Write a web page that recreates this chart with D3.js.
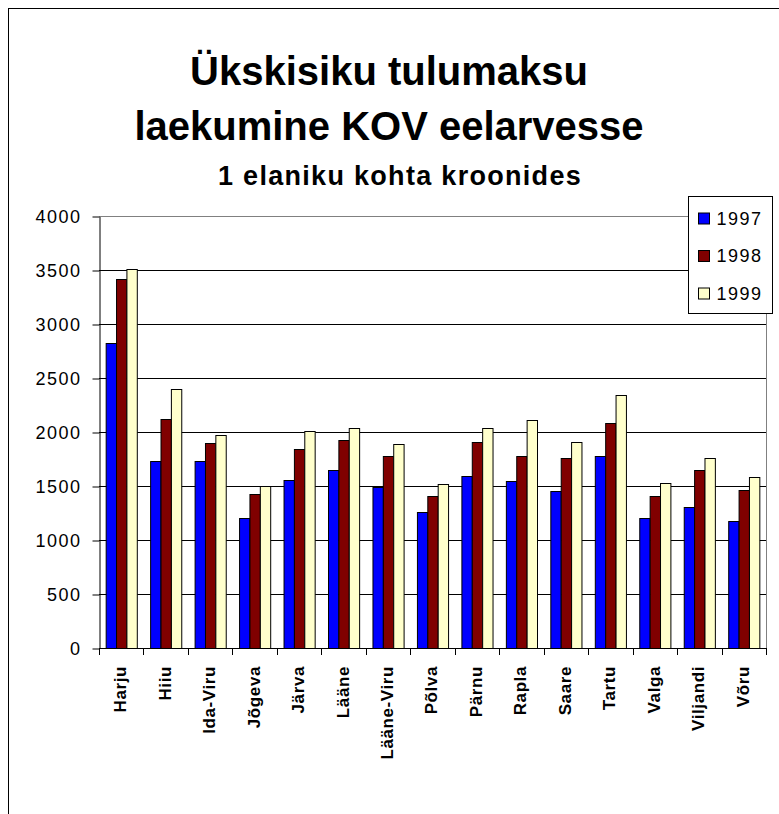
<!DOCTYPE html>
<html>
<head>
<meta charset="utf-8">
<script src="https://cdn.jsdelivr.net/npm/d3@7"></script>
<style>
  body { margin: 0; background: #fff; }
  svg { display: block; font-family: 'Liberation Sans', Arial, sans-serif; }
</style>
</head>
<body>
<div class="vis-bars"></div>
<script>
const counties = ['Harju', 'Hiiu', 'Ida-Viru', 'Jõgeva', 'Järva', 'Lääne', 'Lääne-Viru',
    'Põlva', 'Pärnu', 'Rapla', 'Saare', 'Tartu', 'Valga', 'Viljandi', 'Võru'];
const years = ['1997', '1998', '1999'];
const v1997 = [2820, 1730, 1730, 1200, 1560, 1650, 1490, 1260, 1590, 1550, 1450, 1780, 1200, 1310, 1180];
const v1998 = [3420, 2120, 1900, 1430, 1840, 1930, 1780, 1410, 1910, 1780, 1760, 2080, 1410, 1650, 1460];
const v1999 = [3510, 2400, 1970, 1500, 2010, 2040, 1890, 1520, 2040, 2110, 1910, 2340, 1530, 1760, 1580];
const yTicks = [0, 500, 1000, 1500, 2000, 2500, 3000, 3500, 4000];
const titleLines = ['Ükskisiku tulumaksu', 'laekumine KOV eelarvesse'];
const subtitle = '1 elaniku kohta kroonides';

const series = [v1997, v1998, v1999];
const colors = ['#0000ff', '#800000', '#ffffcc'];

const W = 779, H = 814;
const plot = { left: 99, right: 766, top: 216, bottom: 648 };

const svg = d3.select('.vis-bars')
    .append('svg')
    .attr('width', W)
    .attr('height', H);

// outer frame (runs off the right and bottom of the picture)
svg.append('rect')
    .attr('x', 8.5).attr('y', 8.5)
    .attr('width', W + 20).attr('height', H + 20)
    .attr('fill', '#fff')
    .attr('stroke', '#000');

// titles
svg.append('text')
    .attr('x', 389).attr('y', 85)
    .attr('text-anchor', 'middle')
    .style('font-size', '40px').style('font-weight', 'bold')
    .text(titleLines[0]);
svg.append('text')
    .attr('x', 389).attr('y', 140)
    .attr('text-anchor', 'middle')
    .style('font-size', '40px').style('font-weight', 'bold')
    .text(titleLines[1]);
svg.append('text')
    .attr('x', 400).attr('y', 185)
    .attr('text-anchor', 'middle')
    .style('font-size', '27px').style('font-weight', 'bold')
    .style('letter-spacing', '1.3px')
    .text(subtitle);

const y = d3.scaleLinear()
    .domain([0, 4000])
    .range([plot.bottom, plot.top]);

const x = d3.scaleBand()
    .domain(counties)
    .range([plot.left, plot.right])
    .paddingInner(0.3)
    .paddingOuter(0.15);

const xs = d3.scaleBand()
    .domain(years)
    .range([0, x.bandwidth()]);

// gridlines
svg.append('g')
    .selectAll('line')
    .data(yTicks.filter(d => d > 0))
    .enter().append('line')
    .attr('x1', plot.left).attr('x2', plot.right)
    .attr('y1', d => Math.round(y(d)) + 0.5)
    .attr('y2', d => Math.round(y(d)) + 0.5)
    .attr('stroke', d => d === 4000 ? '#808080' : '#000');

// right plot border
svg.append('line')
    .attr('x1', plot.right + 0.5).attr('x2', plot.right + 0.5)
    .attr('y1', y(4000)).attr('y2', y(0))
    .attr('stroke', '#808080');

// bars
const groups = svg.append('g')
    .selectAll('g')
    .data(counties)
    .enter().append('g')
    .attr('transform', d => 'translate(' + x(d) + ',0)');

groups.selectAll('rect')
    .data((d, i) => years.map((yr, k) => ({ year: yr, value: series[k][i], k: k })))
    .enter().append('rect')
    .attr('x', d => xs(d.year) + 0.5)
    .attr('y', d => Math.round(y(d.value)) + 0.5)
    .attr('width', xs.bandwidth())
    .attr('height', d => y(0) - Math.round(y(d.value)))
    .attr('fill', d => colors[d.k])
    .attr('stroke', '#000')
    .attr('stroke-width', 1);

// y axis
const yAxis = svg.append('g')
    .attr('transform', 'translate(' + (plot.left + 0.5) + ',0.5)')
    .call(d3.axisLeft(y).tickValues(yTicks).tickFormat(d3.format('d')).tickSize(7).tickSizeOuter(0));
yAxis.select('.domain').attr('stroke', '#000');
yAxis.selectAll('.tick line').attr('stroke', '#000');
yAxis.selectAll('.tick text')
    .attr('x', -18)
    .style('font-size', '18px')
    .style('letter-spacing', '1.5px')
    .style('font-family', "'Liberation Sans', Arial, sans-serif")
    .attr('fill', '#000');

// x axis: ticks on category boundaries
const bounds = counties.map(c => x(c) - x.step() * x.paddingOuter()).concat([plot.right]);
svg.append('line')
    .attr('x1', plot.left).attr('x2', plot.right + 1)
    .attr('y1', y(0) + 0.5).attr('y2', y(0) + 0.5)
    .attr('stroke', '#000');
svg.append('g')
    .selectAll('line')
    .data(bounds)
    .enter().append('line')
    .attr('x1', d => Math.round(d) + 0.5).attr('x2', d => Math.round(d) + 0.5)
    .attr('y1', y(0)).attr('y2', y(0) + 7)
    .attr('stroke', '#000');

svg.append('g')
    .selectAll('text')
    .data(counties)
    .enter().append('text')
    .attr('transform', d => 'translate(' + (x(d) + x.bandwidth() / 2 - 1) + ',' + 666 + ') rotate(-90)')
    .attr('text-anchor', 'end')
    .attr('dy', '0.35em')
    .style('font-size', '17px')
    .style('font-weight', 'bold')
    .style('letter-spacing', '0.6px')
    .text(d => d);

// legend
const legend = svg.append('g')
    .attr('transform', 'translate(688.5,196.5)');
legend.append('rect')
    .attr('width', 84).attr('height', 117)
    .attr('fill', '#fff')
    .attr('stroke', '#000');
const items = legend.selectAll('.legend')
    .data(years)
    .enter().append('g')
    .attr('class', 'legend')
    .attr('transform', (d, i) => 'translate(10,' + (22 + i * 37.5) + ')');
items.append('rect')
    .attr('x', 0).attr('y', -5.5)
    .attr('width', 11).attr('height', 11)
    .attr('fill', (d, i) => colors[i])
    .attr('stroke', '#000');
items.append('text')
    .attr('x', 18).attr('dy', '0.35em')
    .style('font-size', '18px')
    .style('letter-spacing', '1.5px')
    .text(d => d);
</script>
</body>
</html>
